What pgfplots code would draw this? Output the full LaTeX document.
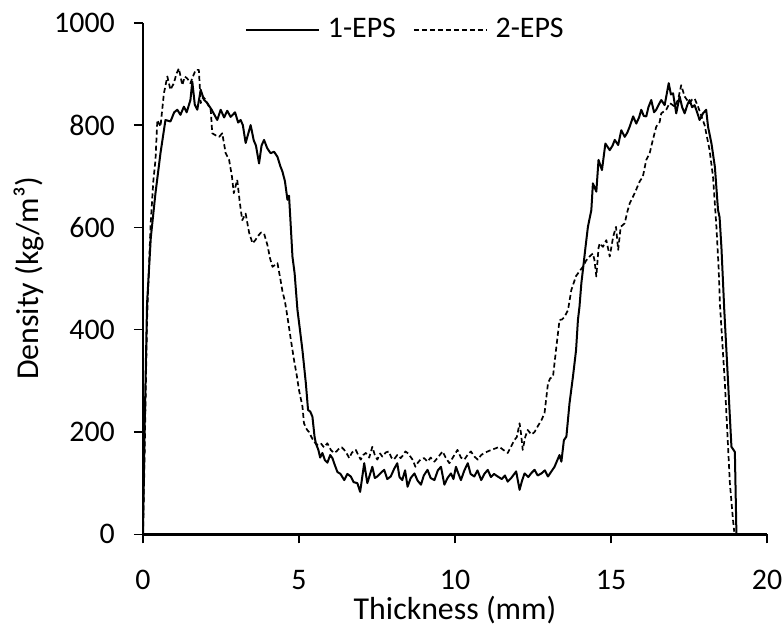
\documentclass[border=0pt]{standalone}
\usepackage{fontspec}
\setmainfont{Carlito}
\usepackage{pgfplots}
\pgfplotsset{compat=1.18}
\begin{document}
\fontsize{30}{36}\selectfont
\begin{tikzpicture}
\begin{axis}[
  name=ax,
  scale only axis,
  width=624bp, height=511.5bp,
  xmin=0, xmax=20, ymin=0, ymax=1000,
  axis lines=left,
  axis line style={-, line width=2.5bp},
  xtick={0,5,10,15,20},
  ytick={0,200,400,600,800,1000},
  tick align=outside,
  major tick length=9bp,
  tick style={line width=1.6bp, black},
  minor tick num=0,
  /pgf/number format/assume math mode=true,
  /pgf/number format/1000 sep={},
  xticklabel style={yshift=-17bp},
  yticklabel style={xshift=-9bp},
  xlabel={Thickness (mm)},
  ylabel={Density (kg/m³)},
  xlabel style={at={(axis description cs:0.5,-0.167)}, anchor=base, font=\fontsize{32}{38}\selectfont},
  ylabel style={at={(axis description cs:-0.1827,0.5)}, anchor=center, font=\fontsize{32}{38}\selectfont},
  legend style={at={(rel axis cs:0.163,0.986)}, anchor=west, draw=none, fill=none, inner sep=0pt, font=\fontsize{30}{36}\selectfont},
  legend columns=2,
  legend image code/.code={\draw[#1] (0bp,0bp) -- (73bp,0bp); \path (79bp,0bp);},
  /tikz/every even column/.append style={column sep=15bp},
  clip=false,
]
\addplot[black, line width=2bp, line join=round] coordinates {
(0.0,0) (0.05,200) (0.13,451) (0.25,580) (0.40,667) (0.56,745) (0.72,810) (0.88,807) (1.0,825) (1.10,830) (1.2,820) (1.31,836) (1.4,825) (1.52,849) (1.58,885) (1.66,840) (1.74,830) (1.85,869) (1.95,850) (2.06,843) (2.2,830) (2.38,810) (2.49,830) (2.6,815) (2.7,828) (2.81,816) (2.95,825) (3.05,805) (3.13,810) (3.2,800) (3.29,765) (3.45,800) (3.55,770) (3.62,760) (3.72,725) (3.80,760) (3.88,771) (3.98,755) (4.09,745) (4.2,748) (4.31,738) (4.40,720) (4.47,709) (4.55,690) (4.63,654) (4.68,662) (4.72,620) (4.79,543) (4.86,510) (4.95,439) (5.03,400) (5.11,360) (5.22,295) (5.29,243) (5.36,240) (5.43,230) (5.50,190) (5.54,178) (5.62,165) (5.68,150) (5.75,159) (5.83,145) (5.91,140) (6.0,155) (6.07,149) (6.15,135) (6.23,122) (6.33,118) (6.45,106) (6.55,118) (6.66,113) (6.75,102) (6.87,100) (6.96,83) (7.09,139) (7.19,100) (7.28,118) (7.35,132) (7.43,110) (7.51,113) (7.62,120) (7.73,126) (7.83,108) (7.94,113) (8.05,128) (8.15,139) (8.22,112) (8.31,106) (8.40,125) (8.48,93) (8.58,110) (8.70,119) (8.80,105) (8.91,97) (9.0,115) (9.12,126) (9.22,110) (9.34,106) (9.45,125) (9.55,132) (9.66,97) (9.76,110) (9.87,119) (9.95,108) (10.03,132) (10.10,120) (10.19,106) (10.30,125) (10.41,139) (10.50,118) (10.62,113) (10.72,125) (10.84,106) (10.94,118) (11.05,126) (11.15,112) (11.25,118) (11.37,113) (11.5,108) (11.60,115) (11.69,103) (11.80,110) (11.96,123) (12.07,87) (12.15,105) (12.23,119) (12.35,112) (12.45,120) (12.55,126) (12.65,115) (12.77,119) (12.88,125) (12.98,113) (13.08,122) (13.19,132) (13.28,145) (13.35,155) (13.41,142) (13.49,184) (13.57,191) (13.67,256) (13.78,308) (13.88,360) (13.94,419) (13.99,445) (14.05,491) (14.10,517) (14.18,560) (14.26,601) (14.37,634) (14.42,686) (14.53,670) (14.60,732) (14.71,712) (14.82,764) (14.96,751) (15.05,760) (15.12,771) (15.23,761) (15.33,790) (15.44,777) (15.52,785) (15.60,797) (15.71,817) (15.81,803) (15.90,815) (15.97,830) (16.05,818) (16.13,817) (16.20,835) (16.29,849) (16.38,825) (16.45,830) (16.53,840) (16.61,849) (16.72,839) (16.85,882) (16.92,860) (16.99,862) (17.09,823) (17.20,856) (17.28,835) (17.36,823) (17.45,840) (17.52,849) (17.60,835) (17.68,839) (17.76,825) (17.84,810) (17.95,823) (18.05,830) (18.11,797) (18.22,764) (18.33,718) (18.43,634) (18.48,620) (18.54,560) (18.63,439) (18.75,300) (18.86,171) (18.97,161) (19.02,0)
};
\addlegendentry{1-EPS}
\addplot[black, line width=1.7bp, dash pattern=on 5bp off 3bp, line join=round] coordinates {
(0.0,0) (0.05,150) (0.13,420) (0.24,601) (0.33,690) (0.40,732) (0.46,810) (0.56,797) (0.67,862) (0.78,895) (0.88,869) (0.99,882) (1.07,900) (1.15,911) (1.26,878) (1.34,895) (1.42,891) (1.52,882) (1.60,895) (1.69,908) (1.79,908) (1.85,843) (1.93,855) (2.01,849) (2.10,838) (2.17,830) (2.22,784) (2.33,780) (2.44,777) (2.54,784) (2.65,745) (2.76,732) (2.85,700) (2.91,667) (3.02,693) (3.10,650) (3.18,614) (3.29,627) (3.40,590) (3.51,569) (3.60,575) (3.67,582) (3.78,590) (3.88,588) (3.99,565) (4.07,540) (4.15,523) (4.31,530) (4.40,500) (4.47,475) (4.55,455) (4.63,425) (4.74,380) (4.84,341) (4.93,310) (5.00,282) (5.11,250) (5.16,217) (5.25,205) (5.32,200) (5.40,190) (5.48,181) (5.58,175) (5.70,178) (5.80,170) (5.91,178) (6.02,165) (6.12,159) (6.20,162) (6.29,168) (6.37,170) (6.45,165) (6.53,158) (6.61,149) (6.70,160) (6.82,165) (6.90,155) (6.98,146) (7.06,155) (7.14,159) (7.25,150) (7.35,171) (7.43,155) (7.51,146) (7.60,158) (7.67,152) (7.78,160) (7.88,162) (7.96,150) (8.04,146) (8.15,155) (8.26,149) (8.34,155) (8.41,162) (8.50,158) (8.57,152) (8.65,145) (8.73,132) (8.81,140) (8.89,146) (9.01,149) (9.12,142) (9.22,150) (9.34,142) (9.45,150) (9.60,162) (9.70,150) (9.82,139) (9.95,152) (10.08,165) (10.19,150) (10.30,146) (10.40,155) (10.51,162) (10.62,152) (10.73,146) (10.84,155) (10.94,159) (11.05,162) (11.16,165) (11.30,168) (11.42,171) (11.55,165) (11.69,159) (11.80,172) (11.90,184) (11.98,190) (12.07,217) (12.12,195) (12.17,165) (12.25,190) (12.33,204) (12.45,195) (12.55,200) (12.66,212) (12.77,223) (12.87,237) (12.98,295) (13.05,305) (13.14,308) (13.20,340) (13.25,367) (13.35,419) (13.43,420) (13.51,425) (13.62,438) (13.73,478) (13.88,505) (14.00,515) (14.10,523) (14.20,535) (14.31,543) (14.42,549) (14.47,536) (14.53,504) (14.60,560) (14.64,569) (14.74,562) (14.85,575) (14.96,543) (15.07,582) (15.16,601) (15.23,556) (15.31,601) (15.44,608) (15.52,630) (15.60,647) (15.76,667) (15.92,690) (16.02,699) (16.13,732) (16.24,745) (16.34,771) (16.45,797) (16.56,806) (16.61,823) (16.77,830) (16.88,843) (16.96,840) (17.04,836) (17.15,850) (17.25,878) (17.36,856) (17.45,848) (17.52,843) (17.60,850) (17.68,852) (17.79,836) (17.90,817) (18.00,800) (18.16,751) (18.27,699) (18.38,600) (18.45,520) (18.49,451) (18.65,295) (18.81,100) (18.91,28) (18.95,5)
};
\addlegendentry{2-EPS}
\end{axis}
\pgfresetboundingbox
\path ([shift={(-143bp,-94.7bp)}]ax.south west) rectangle ([shift={(640bp,534.3bp)}]ax.south west);
\end{tikzpicture}
\end{document}
